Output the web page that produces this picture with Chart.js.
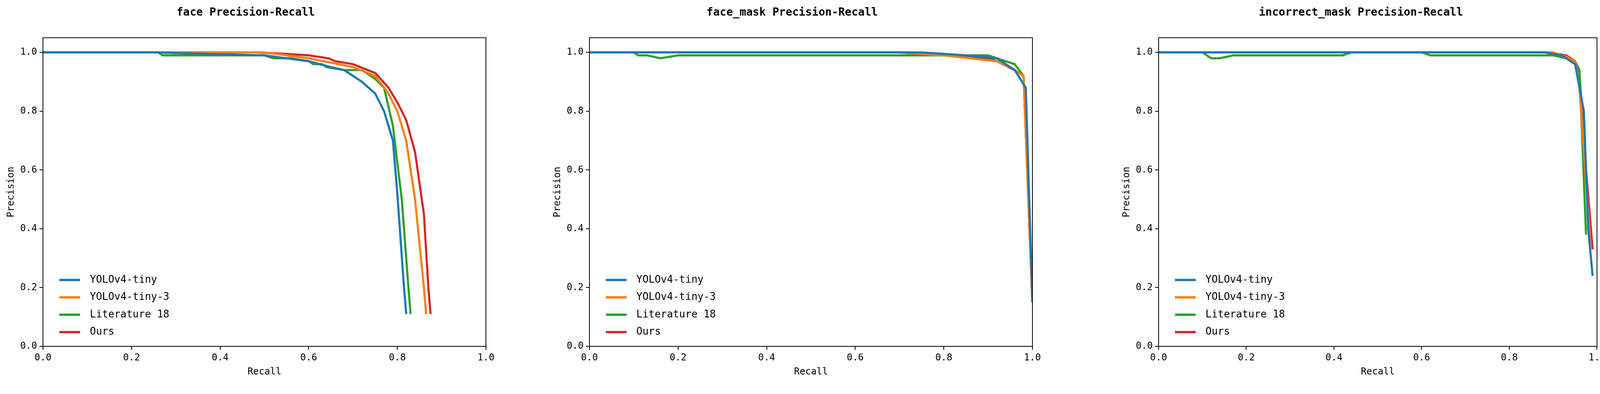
<!DOCTYPE html>
<html><head><meta charset="utf-8">
<script src="https://cdn.jsdelivr.net/npm/chart.js@4"></script>
<style>body{margin:0;background:#fff;width:4116px;height:1009px;position:relative;overflow:hidden}
.c{position:absolute;top:0;height:1009px}</style></head><body>
<div class="c" style="left:0;width:1290px"><canvas id="c0"></canvas></div>
<div class="c" style="left:1399px;width:1290px"><canvas id="c1"></canvas></div>
<div class="c" style="left:2856px;width:1260px"><canvas id="c2"></canvas></div>
<script>
const seriesNames = ['YOLOv4-tiny','YOLOv4-tiny-3','Literature 18','Ours'];
const colors = ['#1f77b4','#ff7f0e','#2ca02c','#d62728'];
const titles = ['face Precision-Recall','face_mask Precision-Recall','incorrect_mask Precision-Recall'];
const tickLabels = [0,0.2,0.4,0.6,0.8,1.0];

// face
const faceBlueR = [0,0.25,0.5,0.6,0.65,0.68,0.72,0.75,0.77,0.79,0.80,0.815,0.82];
const faceBlueP = [1,1,0.99,0.97,0.95,0.94,0.9,0.86,0.8,0.7,0.52,0.2,0.11];
const faceOrangeR = [0,0.5,0.6,0.7,0.75,0.78,0.80,0.82,0.84,0.86,0.865];
const faceOrangeP = [1,1,0.98,0.95,0.92,0.86,0.8,0.7,0.5,0.2,0.11];
const faceGreenR = [0,0.26,0.27,0.5,0.52,0.56,0.6,0.61,0.63,0.64,0.68,0.72,0.75,0.77,0.79,0.81,0.825,0.83];
const faceGreenP = [1,1,0.99,0.99,0.98,0.98,0.97,0.96,0.96,0.95,0.94,0.94,0.91,0.88,0.75,0.5,0.2,0.11];
const faceRedR = [0,0.48,0.55,0.6,0.645,0.66,0.7,0.75,0.78,0.80,0.82,0.84,0.86,0.87,0.875];
const faceRedP = [1,1,0.995,0.99,0.98,0.97,0.96,0.93,0.88,0.83,0.77,0.66,0.45,0.2,0.11];
// face_mask
const maskBlueR = [0,0.7,0.75,0.85,0.92,0.96,0.985,1.0];
const maskBlueP = [1,1,1,0.99,0.98,0.94,0.88,0.15];
const maskOrangeR = [0,0.7,0.8,0.92,0.95,0.98,1.0];
const maskOrangeP = [1,1,0.99,0.97,0.95,0.92,0.15];
const maskGreenR = [0,0.1,0.11,0.13,0.16,0.18,0.2,0.75,0.9,0.92,0.96,0.98,1.0];
const maskGreenP = [1,1,0.99,0.99,0.98,0.985,0.99,0.99,0.99,0.98,0.96,0.92,0.15];
const maskRedR = [0,0.7,0.8,0.9,0.92,0.96,0.98,1.0];
const maskRedP = [1,1,0.99,0.98,0.97,0.94,0.92,0.15];
// incorrect_mask
const incBlueR = [0,0.88,0.92,0.95,0.97,0.98,0.99];
const incBlueP = [1,1,0.99,0.96,0.8,0.4,0.24];
const incOrangeR = [0,0.9,0.93,0.95,0.96,0.985];
const incOrangeP = [1,1,0.985,0.97,0.88,0.35];
const incGreenR = [0,0.1,0.12,0.14,0.17,0.42,0.44,0.6,0.62,0.9,0.93,0.95,0.96,0.975];
const incGreenP = [1,1,0.98,0.98,0.99,0.99,1,1,0.99,0.99,0.98,0.97,0.94,0.38];
const incRedR = [0,0.89,0.93,0.95,0.96,0.975,0.99];
const incRedP = [1,1,0.99,0.97,0.93,0.6,0.33];

const charts = [
  [[faceBlueR,faceBlueP],[faceOrangeR,faceOrangeP],[faceGreenR,faceGreenP],[faceRedR,faceRedP]],
  [[maskBlueR,maskBlueP],[maskOrangeR,maskOrangeP],[maskGreenR,maskGreenP],[maskRedR,maskRedP]],
  [[incBlueR,incBlueP],[incOrangeR,incOrangeP],[incGreenR,incGreenP],[incRedR,incRedP]]
];
const FONT = "'DejaVu Sans Mono', 'DejaVu Sans', sans-serif";
const boxLegend = {
  id:'boxLegend',
  afterDatasetsDraw(chart){
    const {ctx, chartArea:a} = chart;
    ctx.save();
    ctx.strokeStyle='#000'; ctx.lineWidth=2;
    ctx.strokeRect(a.left,a.top,a.right-a.left,a.bottom-a.top);
    ctx.font = "26px "+FONT; ctx.textBaseline='middle'; ctx.fillStyle='#000';
    chart.data.datasets.forEach((d,i)=>{
      const y = a.bottom - 170 + i*44.5;
      ctx.strokeStyle=d.borderColor; ctx.lineWidth=6;
      ctx.beginPath(); ctx.moveTo(a.left+42,y); ctx.lineTo(a.left+95,y); ctx.stroke();
      ctx.fillText(d.label, a.left+120, y);
    });
    ctx.restore();
  }
};
charts.forEach((series,ci)=>{
  new Chart(document.getElementById('c'+ci),{
    type:'line',
    data:{datasets: series.map((s,i)=>({
      label: seriesNames[i], borderColor: colors[i], backgroundColor: colors[i],
      borderWidth:5.5, pointRadius:0, tension:0, fill:false,
      data: s[0].map((r,k)=>({x:r,y:s[1][k]}))
    }))},
    options:{
      responsive:true, maintainAspectRatio:false, animation:false,
      layout:{padding:{top:0,right:ci==2?18:46,bottom:42,left:14}},
      plugins:{legend:{display:false},tooltip:{enabled:false},
        title:{display:true,text:titles[ci],color:'#000',font:{family:FONT,size:28,weight:'bold'},padding:{top:16,bottom:47}}},
      scales:{
        x:{type:'linear',min:0,max:1,
          afterBuildTicks(ax){ax.ticks=tickLabels.map(v=>({value:v}));},
          afterFit(ax){ax.height=80;},
          grid:{display:true,drawOnChartArea:false,drawTicks:true,tickLength:9,color:'#000',lineWidth:2},
          border:{display:true,color:'#000',width:2},
          ticks:{color:'#000',font:{family:FONT,size:24},padding:6,callback:v=>v.toFixed(1),maxRotation:0},
          title:{display:true,text:'Recall',color:'#000',font:{family:FONT,size:24},padding:{top:0,bottom:0}}},
        y:{type:'linear',min:0,max:1.05,
          afterBuildTicks(ax){ax.ticks=tickLabels.map(v=>({value:v}));},
          afterFit(ax){ax.width=96;},
          grid:{display:true,drawOnChartArea:false,drawTicks:true,tickLength:9,color:'#000',lineWidth:2},
          border:{display:true,color:'#000',width:2},
          ticks:{color:'#000',font:{family:FONT,size:24},padding:6,callback:v=>v.toFixed(1)},
          title:{display:true,text:'Precision',color:'#000',font:{family:FONT,size:24},padding:{top:0,bottom:4}}}
      }
    },
    plugins:[boxLegend]
  });
});
</script></body></html>
